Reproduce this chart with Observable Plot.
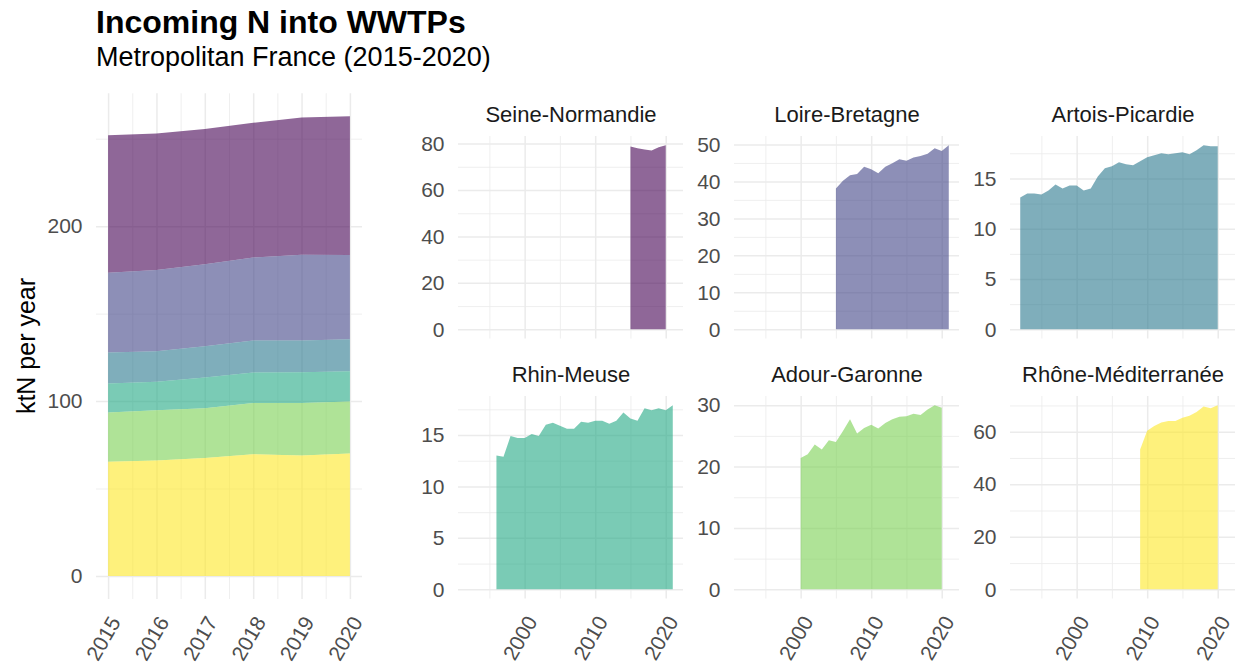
<!DOCTYPE html>
<html>
<head>
<meta charset="utf-8">
<script src="https://cdn.jsdelivr.net/npm/d3@7"></script>
<script src="https://cdn.jsdelivr.net/npm/@observablehq/plot@0.6"></script>
<style>
  html, body { margin: 0; padding: 0; background: #fff; }
  #root { position: relative; width: 1238px; height: 667px; overflow: hidden;
          font-family: "Liberation Sans", Arial, Helvetica, sans-serif; }
  .txt { position: absolute; line-height: 1; white-space: nowrap; }
  #title { left: 96px; top: 6px; font-size: 32px; font-weight: bold; color: #000; }
  #subtitle { left: 96px; top: 44px; font-size: 27px; color: #000; }
  #ytitle { left: 26px; top: 346px; font-size: 25px; color: #000;
            transform: translate(-50%, -50%) rotate(-90deg); }
</style>
</head>
<body>
<div id="root">
  <div id="title" class="txt">Incoming N into WWTPs</div>
  <div id="subtitle" class="txt">Metropolitan France (2015-2020)</div>
  <div id="ytitle" class="txt">ktN per year</div>
</div>
<script>
// ---------------- data ----------------
const regionNames = ["Seine-Normandie", "Loire-Bretagne", "Artois-Picardie",
                     "Rhin-Meuse", "Adour-Garonne", "Rhône-Méditerranée"];
const regionColors = ["#440154", "#414487", "#2A788E", "#22A884", "#7AD151", "#FDE725"];

const snYears = [2015, 2016, 2017, 2018, 2019, 2020];
const snValues = [78.7, 78.0, 77.4, 77.0, 78.4, 79.3];

const lbYears = [2005, 2006, 2007, 2008, 2009, 2010, 2011, 2012, 2013, 2014, 2015, 2016, 2017, 2018, 2019, 2020, 2021];
const lbValues = [38.1, 40.2, 41.7, 42.0, 44.0, 43.3, 42.2, 44.0, 44.9, 46.0, 45.6, 46.5, 46.9, 47.5, 49.0, 48.2, 49.8];

const apYears = [1992, 1993, 1994, 1995, 1996, 1997, 1998, 1999, 2000, 2001, 2002, 2003, 2004, 2005, 2006,
                 2007, 2008, 2009, 2010, 2011, 2012, 2013, 2014, 2015, 2016, 2017, 2018, 2019, 2020];
const apValues = [13.1, 13.5, 13.5, 13.4, 13.8, 14.4, 14.0, 14.3, 14.3, 13.8, 14.0, 15.2, 16.0, 16.2, 16.6,
                  16.4, 16.3, 16.7, 17.1, 17.3, 17.5, 17.4, 17.5, 17.6, 17.4, 17.8, 18.3, 18.2, 18.2];

const rhYears = [1996, 1997, 1998, 1999, 2000, 2001, 2002, 2003, 2004, 2005, 2006, 2007, 2008,
                 2009, 2010, 2011, 2012, 2013, 2014, 2015, 2016, 2017, 2018, 2019, 2020, 2021];
const rhValues = [13.0, 12.9, 14.9, 14.7, 14.7, 15.1, 14.9, 16.0, 16.2, 15.9, 15.6, 15.6, 16.3,
                  16.2, 16.4, 16.4, 16.1, 16.4, 17.2, 16.6, 16.4, 17.6, 17.4, 17.6, 17.4, 17.9];

const agYears = [2000, 2001, 2002, 2003, 2004, 2005, 2006, 2007, 2008, 2009, 2010,
                 2011, 2012, 2013, 2014, 2015, 2016, 2017, 2018, 2019, 2020];
const agValues = [21.4, 22.0, 23.6, 22.8, 24.3, 24.0, 25.8, 27.7, 25.4, 26.3, 26.8,
                  26.2, 27.1, 27.7, 28.1, 28.2, 28.6, 28.4, 29.3, 30.0, 29.6];

const rmYears = [2009, 2010, 2011, 2012, 2013, 2014, 2015, 2016, 2017, 2018, 2019, 2020];
const rmValues = [53.2, 60.4, 62.2, 63.5, 64.1, 64.1, 65.3, 66.1, 67.5, 69.6, 68.9, 70.1];

// stacking order, bottom to top
const stackOrder = ["Rhône-Méditerranée", "Adour-Garonne", "Rhin-Meuse",
                    "Artois-Picardie", "Loire-Bretagne", "Seine-Normandie"];

// tick labels
const overviewYearTicks = [2015, 2016, 2017, 2018, 2019, 2020];
const overviewYearMinor = [2015.5, 2016.5, 2017.5, 2018.5, 2019.5];
const overviewYMajor = [0, 100, 200];
const overviewYMinor = [50, 150, 250];
const facetYearTicks = [2000, 2010, 2020];
const facetYearMinor = [1995, 2005, 2015];
const facetYTicks = {
  "Seine-Normandie":    {major: [0, 20, 40, 60, 80], minor: [10, 30, 50, 70]},
  "Loire-Bretagne":     {major: [0, 10, 20, 30, 40, 50], minor: [5, 15, 25, 35, 45]},
  "Artois-Picardie":    {major: [0, 5, 10, 15], minor: [2.5, 7.5, 12.5, 17.5]},
  "Rhin-Meuse":         {major: [0, 5, 10, 15], minor: [2.5, 7.5, 12.5, 17.5]},
  "Adour-Garonne":      {major: [0, 10, 20, 30], minor: [5, 15, 25]},
  "Rhône-Méditerranée": {major: [0, 20, 40, 60], minor: [10, 30, 50, 70]}
};

// ---------------- build tables ----------------
const series = [
  {name: regionNames[0], years: snYears, values: snValues},
  {name: regionNames[1], years: lbYears, values: lbValues},
  {name: regionNames[2], years: apYears, values: apValues},
  {name: regionNames[3], years: rhYears, values: rhValues},
  {name: regionNames[4], years: agYears, values: agValues},
  {name: regionNames[5], years: rmYears, values: rmValues}
];
const rows = series.flatMap(s => s.years.map((y, i) => ({region: s.name, year: y, value: s.values[i]})));

// ---------------- style constants ----------------
const FONT = '"Liberation Sans", Arial, Helvetica, sans-serif';
const GRID = "#EBEBEB";
const AXIS_TEXT = "#4D4D4D";
const STRIP_TEXT = "#1A1A1A";
const AXIS_FS = 21;
const ALPHA = 0.6;
const root = document.getElementById("root");

function place(svg, left, top) {
  svg.style.position = "absolute";
  svg.style.left = left + "px";
  svg.style.top = top + "px";
  root.appendChild(svg);
}

function expand(lo, hi) { const r = hi - lo; return [lo - 0.05 * r, hi + 0.05 * r]; }

// ---------------- overview stacked area ----------------
{
  const data = rows.filter(d => d.year >= 2015 && d.year <= 2020);
  const totals = d3.rollup(data, v => d3.sum(v, d => d.value), d => d.year);
  const yMax = d3.max(totals.values());
  const mL = 96, mR = 18, mT = 20.3, mB = 68, PW = 266, PH = 505.7;
  const svg = Plot.plot({
    width: mL + PW + mR, height: mT + PH + mB,
    marginLeft: mL, marginRight: mR, marginTop: mT, marginBottom: mB,
    x: {domain: expand(2015, 2020), axis: null},
    y: {domain: expand(0, yMax), axis: null},
    color: {domain: regionNames, range: regionColors},
    style: {fontFamily: FONT, background: "transparent", overflow: "visible"},
    marks: [
      Plot.gridX(overviewYearMinor, {stroke: GRID, strokeOpacity: 1, strokeWidth: 0.8}),
      Plot.gridX(overviewYearTicks, {stroke: GRID, strokeOpacity: 1, strokeWidth: 1.5}),
      Plot.gridY(overviewYMinor, {stroke: GRID, strokeOpacity: 1, strokeWidth: 0.8}),
      Plot.gridY(overviewYMajor, {stroke: GRID, strokeOpacity: 1, strokeWidth: 1.5}),
      Plot.areaY(data, {x: "year", y: "value", z: "region", fill: "region",
                        fillOpacity: ALPHA, order: stackOrder}),
      Plot.axisY(overviewYMajor, {tickSize: 0, tickPadding: 14, fontSize: AXIS_FS,
                                  fill: AXIS_TEXT, label: null}),
      Plot.axisX(overviewYearTicks, {tickSize: 0, tickPadding: 0, tickRotate: -60, fontSize: AXIS_FS,
                                     fill: AXIS_TEXT, label: null, tickFormat: d => String(d),
                                     dx: 7, dy: 19})
    ]
  });
  place(svg, 0, 93.3 - mT);
}

// ---------------- facets ----------------
const allYears = rows.map(d => d.year);
const facetXDomain = expand(d3.min(allYears), d3.max(allYears));
const colLeft = [458, 734, 1010];
const rowTop = [136, 396];
const PW = 225, PH = 202.5;

series.forEach((s, i) => {
  const col = i % 3, row = Math.floor(i / 3);
  const data = rows.filter(d => d.region === s.name);
  const yMax = d3.max(data, d => d.value);
  const ticks = facetYTicks[s.name];
  const mL = 60, mR = 12, mT = 45, mB = row === 1 ? 72 : 10;
  const marks = [
    Plot.gridX(facetYearMinor, {stroke: GRID, strokeOpacity: 1, strokeWidth: 0.8}),
    Plot.gridX(facetYearTicks, {stroke: GRID, strokeOpacity: 1, strokeWidth: 1.5}),
    Plot.gridY(ticks.minor, {stroke: GRID, strokeOpacity: 1, strokeWidth: 0.8}),
    Plot.gridY(ticks.major, {stroke: GRID, strokeOpacity: 1, strokeWidth: 1.5}),
    Plot.areaY(data, {x: "year", y: "value", fill: regionColors[i], fillOpacity: ALPHA}),
    Plot.axisY(ticks.major, {tickSize: 0, tickPadding: 14, fontSize: AXIS_FS, fill: AXIS_TEXT, label: null}),
    Plot.text([s.name], {frameAnchor: "top", dy: -14.5, lineAnchor: "bottom",
                         fontSize: 22, fill: STRIP_TEXT, text: d => d})
  ];
  if (row === 1) {
    marks.push(Plot.axisX(facetYearTicks, {tickSize: 0, tickPadding: 0, tickRotate: -60, fontSize: AXIS_FS,
                                          fill: AXIS_TEXT, label: null, tickFormat: d => String(d),
                                          dx: 7, dy: 19}));
  }
  const svg = Plot.plot({
    width: mL + PW + mR, height: mT + PH + mB,
    marginLeft: mL, marginRight: mR, marginTop: mT, marginBottom: mB,
    x: {domain: facetXDomain, axis: null},
    y: {domain: expand(0, yMax), axis: null},
    style: {fontFamily: FONT, background: "transparent", overflow: "visible"},
    marks
  });
  place(svg, colLeft[col] - mL, rowTop[row] - mT);
});
</script>
</body>
</html>
